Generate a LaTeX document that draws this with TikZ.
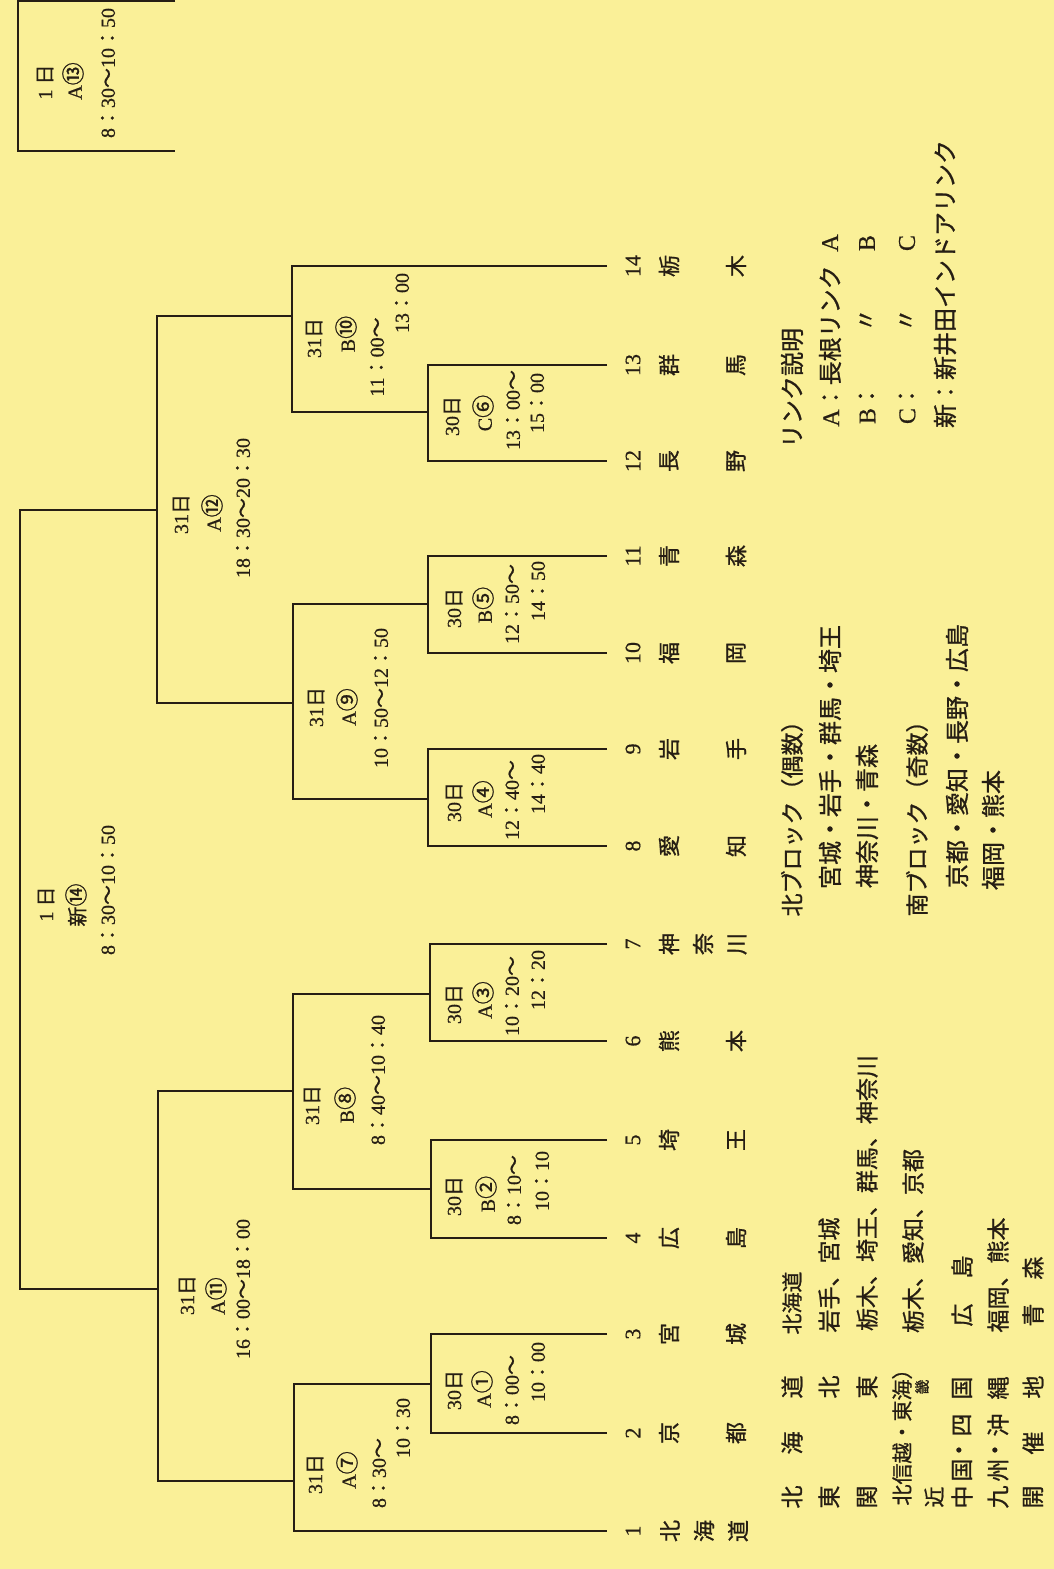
\documentclass[tikz,border=0pt]{standalone}
\usepackage{graphicx}
\usepackage{fontspec}
\setmainfont{Liberation Serif}[FakeBold=0.6]
\newfontfamily\cjk{Noto Sans CJK JP}[FakeBold=0.9]
\newfontfamily\latn{Liberation Serif}[FakeBold=0.6]
\newcommand\J[1]{{\cjk #1}}
\newcommand\cn[1]{\scalebox{1.15}{\J{#1}}}
\newcommand\mcol{\J{：}}
\newcommand\mwave{\J{〜}}
\definecolor{paper}{RGB}{250,240,152}
\definecolor{ink}{RGB}{38,30,20}
\tikzset{
  br/.style={draw=ink, line width=1.3pt, line join=miter},
  lbl/.style={rotate=90, inner sep=0pt, text=ink, font=\fontsize{20}{20}\selectfont},
  tnum/.style={rotate=90, inner sep=0pt, text=ink, font=\fontsize{22}{22}\selectfont},
  tch/.style={rotate=90, inner sep=0pt, text=ink, font=\cjk\fontsize{22}{22}\selectfont},
  leg/.style={rotate=90, inner sep=0pt, text=ink, font=\cjk\fontsize{23}{23}\selectfont},
  legw/.style={rotate=90, inner sep=0pt, text=ink, font=\cjk\fontsize{24}{24}\selectfont},
  legl/.style={rotate=90, inner sep=0pt, text=ink, font=\fontsize{24}{24}\selectfont},
}
\begin{document}
\begin{tikzpicture}[x=1pt,y=-1pt]
\fill[paper] (0,0) rectangle (1054,1569);
\useasboundingbox (0,0) rectangle (1054,1569);

% team line ends
\coordinate (t1) at (607,1531);
\coordinate (t2) at (607,1433);
\coordinate (t3) at (607,1334);
\coordinate (t4) at (607,1238);
\coordinate (t5) at (607,1140);
\coordinate (t6) at (607,1041);
\coordinate (t7) at (607,944);
\coordinate (t8) at (607,846);
\coordinate (t9) at (607,749);
\coordinate (t10) at (607,653);
\coordinate (t11) at (607,556);
\coordinate (t12) at (607,461);
\coordinate (t13) at (607,365);
\coordinate (t14) at (607,266);

% match outputs (x of vertical, y of output)
\coordinate (m1) at (431,1384);
\coordinate (m2) at (431,1189);
\coordinate (m3) at (430,994);
\coordinate (m4) at (428,799);
\coordinate (m5) at (428,604);
\coordinate (m6) at (428,412);
\coordinate (m7) at (294,1481);
\coordinate (m8) at (293,1091);
\coordinate (m9) at (293,703);
\coordinate (m10) at (292,316);
\coordinate (m11) at (158,1289);
\coordinate (m12) at (157,510);
\coordinate (m14) at (20,900);
\coordinate (m13) at (18,75);
\coordinate (f1) at (175,1);
\coordinate (f2) at (175,151);

% brackets
\draw[br] (t3) -- (t3 -| m1) -- (t2 -| m1) -- (t2);
\draw[br] (t5) -- (t5 -| m2) -- (t4 -| m2) -- (t4);
\draw[br] (t7) -- (t7 -| m3) -- (t6 -| m3) -- (t6);
\draw[br] (t9) -- (t9 -| m4) -- (t8 -| m4) -- (t8);
\draw[br] (t11) -- (t11 -| m5) -- (t10 -| m5) -- (t10);
\draw[br] (t13) -- (t13 -| m6) -- (t12 -| m6) -- (t12);
\draw[br] (m1) -- (m1 -| m7) -- (t1 -| m7) -- (t1);
\draw[br] (m3) -- (m3 -| m8) -- (m2 -| m8) -- (m2);
\draw[br] (m5) -- (m5 -| m9) -- (m4 -| m9) -- (m4);
\draw[br] (t14) -- (t14 -| m10) -- (m6 -| m10) -- (m6);
\draw[br] (m8) -- (m8 -| m11) -- (m7 -| m11) -- (m7);
\draw[br] (m10) -- (m10 -| m12) -- (m9 -| m12) -- (m9);
\draw[br] (m12) -- (m12 -| m14) -- (m11 -| m14) -- (m11);
\draw[br] (f1) -- (f1 -| m13) -- (f2 -| m13) -- (f2);

% match labels
\node[lbl] (l7a) at (315,1474) {31\J{日}};
\node[lbl] (l7b) at (347,1470) {A\cn{⑦}};
\node[lbl] (l7c) at (379,1473) {8\mcol30\mwave};
\node[lbl] (l7d) at (403,1428) {10\mcol30};

\node[lbl] (l1a) at (454,1390) {30\J{日}};
\node[lbl] (l1b) at (482,1389) {A\cn{①}};
\node[lbl] (l1c) at (512,1390) {8\mcol00\mwave};
\node[lbl] (l1d) at (538,1372) {10\mcol00};

\node[lbl] (l11a) at (187,1295) {31\J{日}};
\node[lbl] (l11b) at (216,1296) {A\cn{⑪}};
\node[lbl] (l11c) at (243,1289) {16\mcol00\mwave18\mcol00};

\node[lbl] (l8a) at (312,1105) {31\J{日}};
\node[lbl] (l8b) at (345,1105) {B\cn{⑧}};
\node[lbl] (l8c) at (378,1080) {8\mcol40\mwave10\mcol40};

\node[lbl] (l2a) at (454,1196) {30\J{日}};
\node[lbl] (l2b) at (486,1194) {B\cn{②}};
\node[lbl] (l2c) at (514,1190) {8\mcol10\mwave};
\node[lbl] (l2d) at (542,1181) {10\mcol10};

\node[lbl] (l3a) at (454,1004) {30\J{日}};
\node[lbl] (l3b) at (483,1000) {A\cn{③}};
\node[lbl] (l3c) at (512,996) {10\mcol20\mwave};
\node[lbl] (l3d) at (538,980) {12\mcol20};

\node[lbl] (l4a) at (454,802) {30\J{日}};
\node[lbl] (l4b) at (483,799) {A\cn{④}};
\node[lbl] (l4c) at (512,800) {12\mcol40\mwave};
\node[lbl] (l4d) at (538,784) {14\mcol40};

\node[lbl] (l5a) at (454,608) {30\J{日}};
\node[lbl] (l5b) at (483,605) {B\cn{⑤}};
\node[lbl] (l5c) at (512,604) {12\mcol50\mwave};
\node[lbl] (l5d) at (538,591) {14\mcol50};

\node[lbl] (l6a) at (452,416) {30\J{日}};
\node[lbl] (l6b) at (483,413) {C\cn{⑥}};
\node[lbl] (l6c) at (513,410) {13\mcol00\mwave};
\node[lbl] (l6d) at (537,403) {15\mcol00};

\node[lbl] (l10a) at (314,338) {31\J{日}};
\node[lbl] (l10b) at (346,334) {B\cn{⑩}};
\node[lbl] (l10c) at (377,357) {11\mcol00\mwave};
\node[lbl] (l10d) at (402,303) {13\mcol00};

\node[lbl] (l9a) at (316,707) {31\J{日}};
\node[lbl] (l9b) at (347,707) {A\cn{⑨}};
\node[lbl] (l9c) at (381,698) {10\mcol50\mwave12\mcol50};

\node[lbl] (l12a) at (181,514) {31\J{日}};
\node[lbl] (l12b) at (212,513) {A\cn{⑫}};
\node[lbl] (l12c) at (243,508) {18\mcol30\mwave20\mcol30};

\node[lbl] (l14a) at (46,904) {1\hspace{5pt}\J{日}};
\node[lbl] (l14b) at (76,905) {\J{新}\cn{⑭}};
\node[lbl] (l14c) at (108,890) {8\mcol30\mwave10\mcol50};

\node[lbl] (l13a) at (45,82) {1\hspace{5pt}\J{日}};
\node[lbl] (l13b) at (73,81) {A\cn{⑬}};
\node[lbl] (l13c) at (108,73) {8\mcol30\mwave10\mcol50};

% team numbers and names
\foreach \i/\y in {1/1531,2/1433,3/1334,4/1238,5/1140,6/1041,7/944,8/846,9/749,10/653,11/556,12/461,13/365,14/266}
  \node[tnum] (n\i) at (633,\y) {\i};
\foreach \i/\y/\a/\b in {2/1433/京/都,3/1334/宮/城,4/1238/広/島,5/1140/埼/王,6/1041/熊/本,8/846/愛/知,9/749/岩/手,10/653/福/岡,11/556/青/森,12/461/長/野,13/365/群/馬,14/266/栃/木}{
  \node[tch] (na\i) at (669,\y) {\a};
  \node[tch] (nb\i) at (736,\y) {\b};
}
\node[tch] (na1) at (670,1531) {北};
\node[tch] (nb1) at (704,1531) {海};
\node[tch] (nc1) at (738,1531) {道};
\node[tch] (na7) at (669,944) {神};
\node[tch] (nb7) at (703,944) {奈};
\node[tch] (nc7) at (737,944) {川};

% rink legend
\node[legw] (r1) at (792,388) {リンク説明};
\node[legw] (r2) at (830,346) {{\latn A}：長根リンク};
\node[legl] (r2b) at (830,243) {A};
\node[legw] (r3) at (867,404) {{\latn B}：};
\node[legw] (r3b) at (867,320) {〃};
\node[legl] (r3c) at (867,243) {B};
\node[legw] (r4) at (907,404) {{\latn C}：};
\node[legw] (r4b) at (907,320) {〃};
\node[legl] (r4c) at (907,243) {C};
\node[legw] (r5) at (945,284) {新：新井田インドアリンク};

% blocks
\node[leg] (b1) at (792,813) {北ブロック（偶数）};
\node[legw] (b2) at (830,757) {宮城・岩手・群馬・埼王};
\node[legw] (b3) at (867,816) {神奈川・青森};
\node[leg] (b4) at (917,813) {南ブロック（奇数）};
\node[legw] (b5) at (957,756) {京都・愛知・長野・広島};
\node[legw] (b6) at (993,830) {福岡・熊本};

% regional table
\node[leg] (g1a) at (792,1497) {北};
\node[leg] (g1b) at (792,1443) {海};
\node[leg] (g1c) at (792,1387) {道};
\node[leg] (g2a) at (829,1497) {東};
\node[leg] (g2b) at (829,1387) {北};
\node[leg] (g3a) at (867,1497) {関};
\node[leg] (g3b) at (867,1387) {東};
\node[leg, font=\cjk\fontsize{21}{21}\selectfont] (g4) at (902,1432) {北信越・東海）};
\node[leg, font=\cjk\fontsize{21}{21}\selectfont] (g5a) at (934,1497) {近};
\node[leg, font=\cjk\fontsize{15}{15}\selectfont] (g5b) at (922,1387) {畿};
\node[leg] (g6a) at (962,1497) {中};
\node[leg] (g6b) at (962,1470) {国};
\node[leg] (g6c) at (962,1450) {・};
\node[leg] (g6d) at (962,1425) {四};
\node[leg] (g6e) at (962,1388) {国};
\node[leg] (g7a) at (998,1497) {九};
\node[leg] (g7b) at (998,1470) {州};
\node[leg] (g7c) at (998,1450) {・};
\node[leg] (g7d) at (998,1425) {沖};
\node[leg] (g7e) at (998,1388) {縄};
\node[leg] (g8a) at (1033,1497) {開};
\node[leg] (g8b) at (1033,1443) {催};
\node[leg] (g8c) at (1033,1387) {地};

\node[leg, font=\cjk\fontsize{21}{21}\selectfont] (p1) at (792,1303) {北海道};
\node[leg] (p2) at (829,1275) {岩手、宮城};
\node[leg] (p3) at (867,1193) {栃木、埼王、群馬、神奈川};
\node[leg] (p4) at (913,1241) {栃木、愛知、京都};
\node[leg] (p6a) at (962,1315) {広};
\node[leg] (p6b) at (962,1267) {島};
\node[leg] (p7) at (998,1275) {福岡、熊本};
\node[leg] (p8a) at (1033,1315) {青};
\node[leg] (p8b) at (1033,1268) {森};
\end{tikzpicture}
\end{document}
